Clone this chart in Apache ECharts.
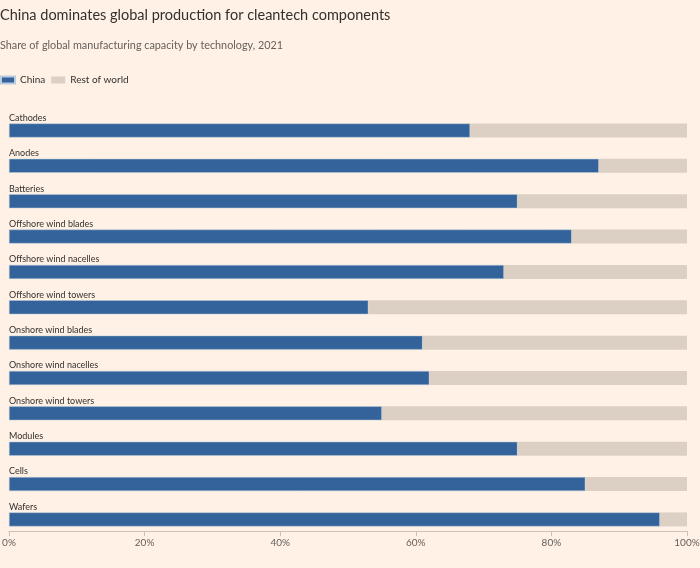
<!DOCTYPE html>
<html><head><meta charset="utf-8">
<script src="https://cdn.jsdelivr.net/npm/echarts@6/dist/echarts.min.js"></script>
<style>html,body{margin:0;padding:0;background:#FFF1E5;}#c{width:700px;height:568px;}</style>
</head><body><div id="c"></div>
<script>
const categories = ["Cathodes","Anodes","Batteries","Offshore wind blades","Offshore wind nacelles","Offshore wind towers","Onshore wind blades","Onshore wind nacelles","Onshore wind towers","Modules","Cells","Wafers"];
const china = [68,87,75,83,73,53,61,62,55,75,85,96];
const restOfWorld = [32,13,25,17,27,47,39,38,45,25,15,4];
const tickValues = [0,20,40,60,80,100];

const chart = echarts.init(document.getElementById('c'));
const font = 'Lato, "Noto Sans", sans-serif';
chart.setOption({
  backgroundColor: '#FFF1E5',
  animation: false,
  title: [
    {text: 'China dominates global production for cleantech components', left: 0, top: 8, padding: 0,
     textStyle: {fontFamily: font, fontSize: 14.5, fontWeight: 'normal', color: '#33302E'}},
    {text: 'Share of global manufacturing capacity by technology, 2021', left: 0, top: 40, padding: 0,
     textStyle: {fontFamily: font, fontSize: 10.8, fontWeight: 'normal', color: '#66605C'}}
  ],
  legend: {
    left: 0, top: 75, padding: 0, itemWidth: 14, itemHeight: 7, itemGap: 6, icon: 'rect',
    textStyle: {fontFamily: font, fontSize: 10, color: '#33302E', padding: [0,0,0,0]},
    data: ['China','Rest of world']
  },
  grid: {left: 9, right: 13, top: 112.8, height: 424.3, containLabel: false, outerBoundsMode: 'none'},
  xAxis: {
    type: 'value', min: 0, max: 100, interval: 20, offset: -6,
    axisLine: {show: true, lineStyle: {color: '#CCC1B7', width: 1}},
    axisTick: {show: true, length: 5, lineStyle: {color: '#CCC1B7'}},
    splitLine: {show: false},
    axisLabel: {fontFamily: font, fontSize: 10, color: '#66605C', margin: 7,
      formatter: v => tickValues.includes(v) ? v + '%' : ''}
  },
  yAxis: {
    type: 'category', data: categories, inverse: true,
    axisLine: {show: false}, axisTick: {show: false},
    axisLabel: {inside: true, margin: 0, align: 'left', verticalAlign: 'bottom',
      padding: [0,0,8,0], fontFamily: font, fontSize: 9, color: '#33302E'}
  },
  series: [
    {name: 'China', type: 'bar', stack: 'total', data: china, barWidth: 14,
     itemStyle: {color: '#33639A', borderColor: '#B9CBDD', borderWidth: 0.5}},
    {name: 'Rest of world', type: 'bar', stack: 'total', data: restOfWorld, barWidth: 14,
     itemStyle: {color: '#DCCFC4'}}
  ]
});
</script></body></html>
